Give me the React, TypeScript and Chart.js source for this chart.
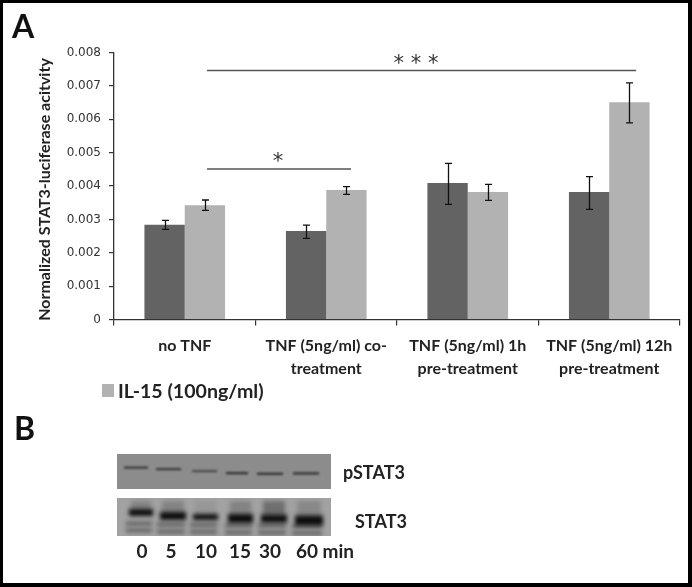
import React, { useEffect, useRef } from "react";
import { Chart, registerables } from "chart.js";

Chart.register(...registerables);

const categories = [
  "no TNF",
  ["TNF (5ng/ml) co-", "treatment"],
  ["TNF (5ng/ml) 1h", "pre-treatment"],
  ["TNF (5ng/ml) 12h", "pre-treatment"],
];
const controlValues = [0.00284, 0.00265, 0.00409, 0.00382];
const il15Values = [0.00342, 0.00388, 0.00382, 0.00651];
const controlLow = [0.0027, 0.00243, 0.00345, 0.0033];
const controlHigh = [0.00297, 0.00283, 0.00468, 0.00428];
const il15Low = [0.00327, 0.00375, 0.00357, 0.00589];
const il15High = [0.00358, 0.00398, 0.00405, 0.00709];
const yTicks = [0, 0.001, 0.002, 0.003, 0.004, 0.005, 0.006, 0.007, 0.008];
const yTitle = "Normalized STAT3-luciferase acitvity";
const legendLabel = "IL-15 (100ng/ml)";
// [start category position, end category position, value, stars]
const sigBars: [number, number, number, string][] = [
  [0.157, 3.19, 0.00746, "* * *"],
  [0.157, 1.175, 0.00451, "*"],
];
const laneLabels = ["0", "5", "10", "15", "30", "60 min"];
const laneLabelX = [142, 171, 206, 240, 270, 325];
// [left, right, y, darkness]
const pstatLanes = [
  [124, 148, 467.5, 0.75],
  [156, 181, 469, 0.75],
  [192, 217, 471, 0.6],
  [226, 248, 473, 0.85],
  [257, 283, 473.7, 0.85],
  [293, 319, 473.3, 0.85],
];
// [left, right, y, band height, upper smear darkness]
const statLanes = [
  [129, 153, 512.5, 7, 0.3],
  [160, 186, 516, 8, 0.3],
  [193, 218, 517, 6, 0.1],
  [228, 253, 518.5, 9, 0.3],
  [261, 287, 518.7, 8, 0.5],
  [295, 323, 520.5, 10, 0.25],
];

const bgPlugin = {
  id: "figure",
  beforeDraw(chart: any) {
    const c = chart.ctx;
    c.save();
    c.fillStyle = "#ffffff";
    c.fillRect(0, 0, 692, 587);
    c.restore();
  },
  afterDatasetsDraw(chart: any) {
    const c = chart.ctx;
    const y = chart.scales.y;
    const x = chart.scales.x;
    const errs = [
      [controlLow, controlHigh],
      [il15Low, il15High],
    ];
    c.save();
    c.strokeStyle = "#111111";
    c.lineWidth = 1.3;
    errs.forEach(([lo, hi], ds) => {
      chart.getDatasetMeta(ds).data.forEach((el: any, i: number) => {
        const px = Math.round(el.x) + 0.5;
        const a = y.getPixelForValue(lo[i]);
        const b = y.getPixelForValue(hi[i]);
        c.beginPath();
        c.moveTo(px, a);
        c.lineTo(px, b);
        c.moveTo(px - 3.5, a);
        c.lineTo(px + 3.5, a);
        c.moveTo(px - 3.5, b);
        c.lineTo(px + 3.5, b);
        c.stroke();
      });
    });
    sigBars.forEach(([s, e, v, stars]) => {
      const x0 = x.getPixelForValue(0) + s * (x.getPixelForValue(1) - x.getPixelForValue(0));
      const x1 = x.getPixelForValue(0) + e * (x.getPixelForValue(1) - x.getPixelForValue(0));
      const py = y.getPixelForValue(v);
      c.strokeStyle = "#555555";
      c.lineWidth = 1.3;
      c.beginPath();
      c.moveTo(x0, py);
      c.lineTo(x1, py);
      c.stroke();
      c.fillStyle = "#333333";
      c.font = "21px 'DejaVu Sans'";
      c.textAlign = "center";
      c.textBaseline = "alphabetic";
      c.fillText(stars, stars.length > 1 ? 416 : 278, py + (stars.length > 1 ? -1 : -1));
    });
    c.restore();
  },
  afterDraw(chart: any) {
    const c = chart.ctx;
    c.save();
    c.textBaseline = "alphabetic";
    c.fillStyle = "#111111";
    c.textAlign = "left";
    c.font = "bold 32px Lato";
    c.fillText("A", 12, 38);
    c.fillText("B", 14, 440);

    // y axis title
    c.save();
    c.translate(50, 189.5);
    c.rotate(-Math.PI / 2);
    c.textAlign = "center";
    c.fillStyle = "#222222";
    c.font = "bold 16px Lato";
    c.fillText(yTitle, 0, 0);
    c.restore();

    // legend
    c.fillStyle = "#b2b2b2";
    c.fillRect(102, 384, 12, 13);
    c.fillStyle = "#222222";
    c.font = "bold 19.6px Lato";
    c.fillText(legendLabel, 118, 398);

    // blots
    c.fillStyle = "#8c8c8c";
    c.fillRect(117, 454, 214, 35);
    c.fillStyle = "#a2a2a2";
    c.fillRect(117, 498, 214, 38);

    c.save();
    c.beginPath();
    c.rect(117, 454, 214, 35);
    c.clip();
    c.filter = "blur(0.8px)";
    pstatLanes.forEach(([a, b, py, k]) => {
      c.fillStyle = `rgba(30,30,30,${k})`;
      c.fillRect(a, py - 1, b - a, 2.2);
    });
    c.restore();

    c.save();
    c.beginPath();
    c.rect(117, 498, 214, 38);
    c.clip();
    c.filter = "blur(2px)";
    statLanes.forEach(([a, b, py, h, up]) => {
      c.fillStyle = "rgba(50,50,50,0.75)";
      c.fillRect(a - 3, 522 + (py - 512.5) / 3, b - a + 2, 3);
      c.fillRect(a - 3, 529 + (py - 512.5) / 3, b - a + 2, 3);
      c.fillStyle = `rgba(60,60,60,${up})`;
      c.fillRect(a + 2, 501, b - a - 4, py - 503);
      c.fillStyle = "#0c0c0c";
      c.fillRect(a, py - h / 2, b - a, h);
    });
    c.restore();

    c.fillStyle = "#222222";
    c.font = "bold 18px Lato";
    c.fillText("pSTAT3", 343, 479);
    c.fillText("STAT3", 355, 528);
    c.textAlign = "center";
    c.font = "bold 19px Lato";
    laneLabels.forEach((t, i) => c.fillText(t, laneLabelX[i], 558));

    // frame
    c.fillStyle = "#000000";
    c.fillRect(0, 0, 692, 3);
    c.fillRect(0, 583, 692, 4);
    c.fillRect(0, 0, 3, 587);
    c.fillRect(688, 0, 4, 587);
    c.restore();
  },
};

export default function App() {
  const ref = useRef<HTMLCanvasElement>(null);
  useEffect(() => {
    const chart = new Chart(ref.current!, {
      type: "bar",
      data: {
        labels: categories as any,
        datasets: [
          { label: "Control", data: controlValues, backgroundColor: "#636363", categoryPercentage: 0.57, barPercentage: 1 },
          { label: legendLabel, data: il15Values, backgroundColor: "#b2b2b2", categoryPercentage: 0.57, barPercentage: 1 },
        ],
      },
      options: {
        animation: false,
        responsive: false,
        devicePixelRatio: 1,
        layout: { padding: { top: 52.5, right: 12, left: 0, bottom: 0 } },
        plugins: { legend: { display: false }, title: { display: false }, tooltip: { enabled: false } },
        scales: {
          x: {
            grid: { drawOnChartArea: false, color: "#333333", lineWidth: 1.2, tickLength: 6, offset: true },
            border: { color: "#333333", width: 1.3 },
            ticks: {
              color: "#222222",
              maxRotation: 0,
              minRotation: 0,
              padding: 9,
              autoSkip: false,
              font: { family: "Lato", size: 16, weight: "bold", lineHeight: 1.44 },
            },
            afterFit: (s: any) => {
              s.height = 267.5;
            },
          },
          y: {
            min: 0,
            max: 0.008,
            afterBuildTicks: (s: any) => {
              s.ticks = yTicks.map((value) => ({ value }));
            },
            grid: { drawOnChartArea: false, color: "#333333", lineWidth: 1.2, tickLength: 5 },
            border: { color: "#333333", width: 1.3 },
            ticks: {
              color: "#333333",
              padding: 8,
              font: { family: "DejaVu Sans", size: 12 },
              callback: (v: any) => (v === 0 ? "0" : Number(v).toFixed(3)),
            },
            afterFit: (s: any) => {
              s.width = 114;
            },
          },
        },
      },
      plugins: [bgPlugin],
    } as any);
    return () => chart.destroy();
  }, []);
  return (
    <div style={{ position: "fixed", left: 0, top: 0, width: 692, height: 587, overflow: "hidden" }}>
      <canvas ref={ref} width={692} height={587} style={{ display: "block", filter: "blur(0.35px)" }} />
    </div>
  );
}
